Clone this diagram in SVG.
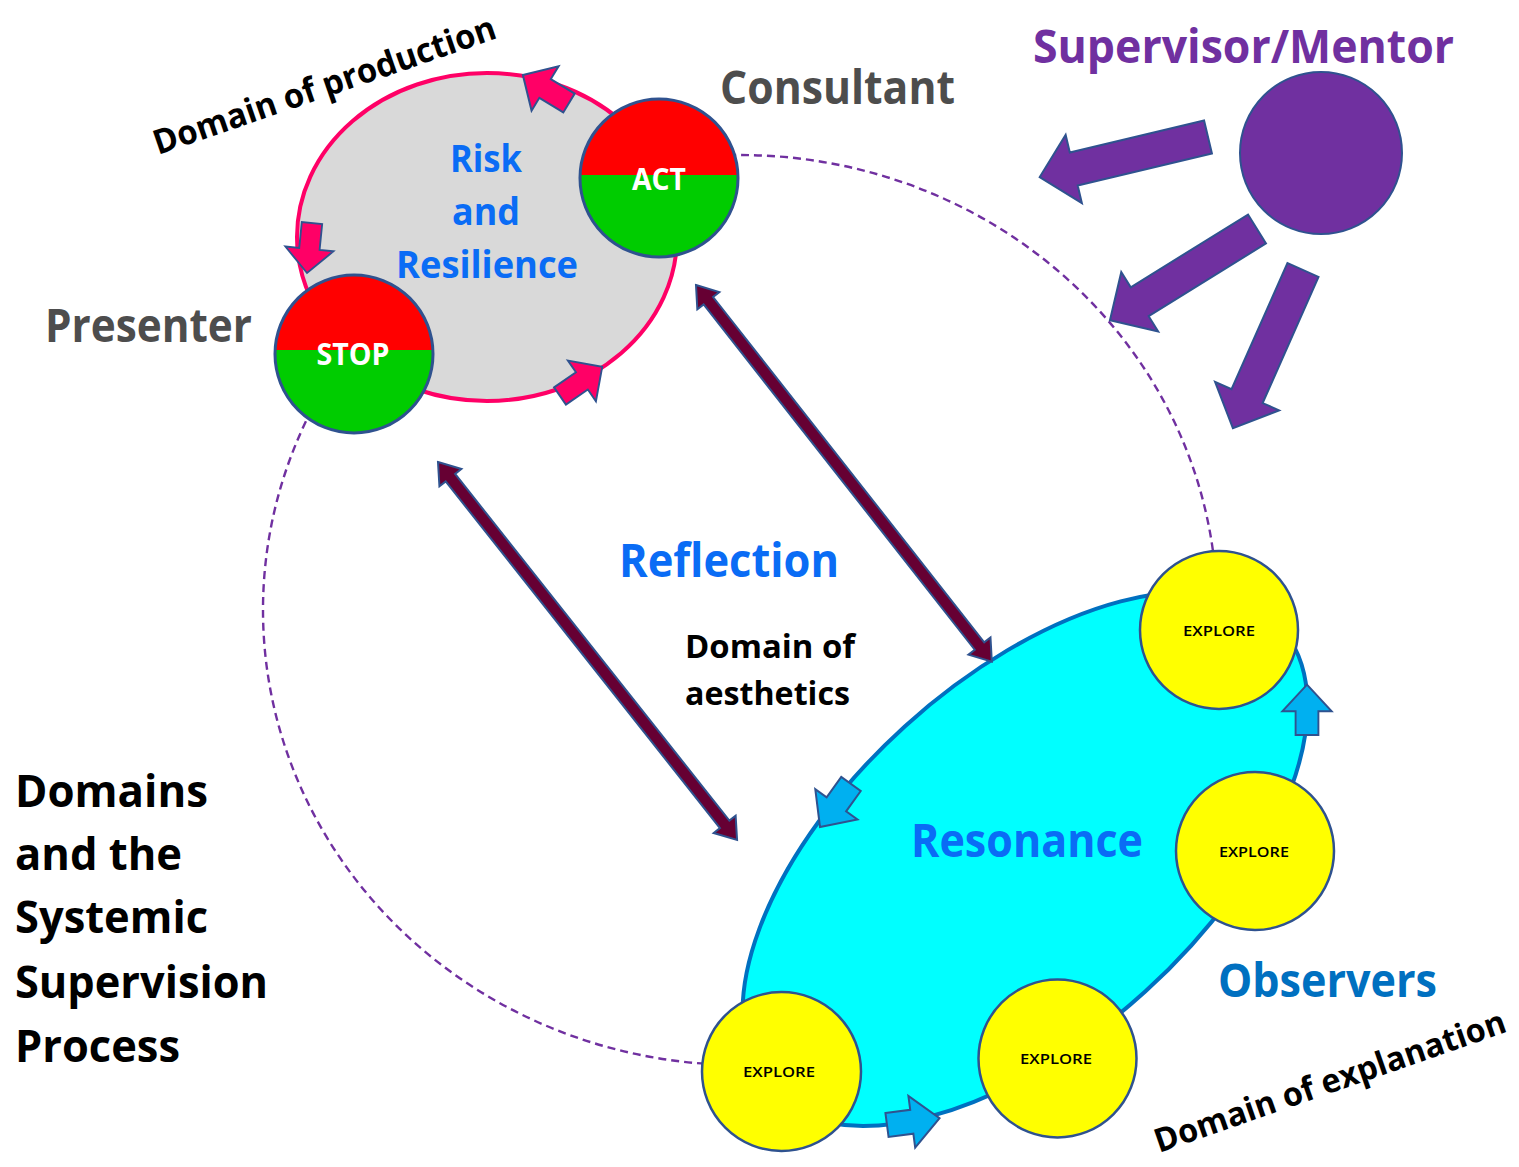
<svg xmlns="http://www.w3.org/2000/svg" width="1519" height="1167" viewBox="0 0 1519 1167">
<style>
text{font-family:"Open Sans","Noto Sans","Liberation Sans",sans-serif;font-weight:700}
.big{font-size:47px}
.blue{fill:#0a6cf5}
.gray{fill:#4d4d4d}
.blk{fill:#000}
.wht{fill:#fff;font-size:30px}
.exp{font-size:15px;fill:#000;font-weight:600}
.ol{stroke:#2f528f;stroke-width:3}
.pink{fill:#ff0066;stroke:#2f528f;stroke-width:2}
.cyarr{fill:#00b0f0;stroke:#2f528f;stroke-width:2}
.parr{fill:#7030a0;stroke:#2f528f;stroke-width:2}
.marr{fill:#660033;stroke:#2f528f;stroke-width:2}
.yel{fill:#ffff00;stroke:#2f528f;stroke-width:2.5}
</style>
<defs>
<polygon id="pinkArrow" points="0,-11 28,-11 28,-26 54,0 28,26 28,11 0,11"/>
<polygon id="cyanArrow" points="0,-12 25,-12 25,-26 53,0 25,26 25,12 0,12"/>
<polygon id="purpleArrow" points="0,-17 138,-17 138,-35 173,0 138,35 138,17 0,17"/>
</defs>
<rect width="1519" height="1167" fill="#fff"/>

<g id="outer-domain">
<ellipse cx="740" cy="610" rx="477" ry="455" fill="none" stroke="#7030a0" stroke-width="2.4" stroke-dasharray="8 5"/>
</g>

<g id="risk-resilience">
<ellipse cx="487" cy="237" rx="190" ry="164" fill="#d9d9d9" stroke="#ff0066" stroke-width="4"/>
<text class="blue" font-size="38" x="486" y="172" text-anchor="middle" textLength="72" lengthAdjust="spacingAndGlyphs">Risk</text>
<text class="blue" font-size="38" x="486" y="225" text-anchor="middle" textLength="68" lengthAdjust="spacingAndGlyphs">and</text>
<text class="blue" font-size="38" x="396" y="278" textLength="182" lengthAdjust="spacingAndGlyphs">Resilience</text>
</g>

<g id="connectors">
<use href="#pinkArrow" class="pink" transform="translate(569,103) rotate(211.3)"/>
<use href="#pinkArrow" class="pink" transform="translate(312,223) rotate(95.7) scale(0.93)"/>
<use href="#pinkArrow" class="pink" transform="translate(560,396) rotate(-34.6) scale(0.95)"/>
</g>

<g id="act">
<path d="M580.06,175 A79,79 0 0 1 737.94,175 Z" fill="#ff0000"/>
<path d="M737.94,175 A79,79 0 1 1 580.06,175 Z" fill="#00cc00"/>
<circle cx="659" cy="178" r="79" fill="none" class="ol"/>
<text class="wht" x="659" y="190" text-anchor="middle" textLength="54" lengthAdjust="spacingAndGlyphs">ACT</text>
</g>

<g id="stop">
<path d="M275.1,350 A79,79 0 0 1 432.9,350 Z" fill="#ff0000"/>
<path d="M432.9,350 A79,79 0 1 1 275.1,350 Z" fill="#00cc00"/>
<circle cx="354" cy="354" r="79" fill="none" class="ol"/>
<text class="wht" x="353" y="365" text-anchor="middle" textLength="73" lengthAdjust="spacingAndGlyphs">STOP</text>
</g>

<g id="resonance">
<ellipse cx="1025" cy="859" rx="345" ry="179" transform="rotate(-42.2 1025 859)" fill="#00ffff" stroke="#0070c0" stroke-width="4"/>
<text class="blue big" x="911" y="857" textLength="232" lengthAdjust="spacingAndGlyphs">Resonance</text>
</g>

<g id="connectors-resonance">
<use href="#cyanArrow" class="cyarr" transform="translate(851,784) rotate(125.8)"/>
<use href="#cyanArrow" class="cyarr" transform="translate(1307,735) rotate(-90) scale(0.95)"/>
<use href="#cyanArrow" class="cyarr" transform="translate(887,1125) rotate(-7.5)"/>
</g>

<g id="explore-1">
<circle cx="1219" cy="630" r="79" class="yel"/>
<text class="exp" x="1219" y="636" text-anchor="middle" textLength="72" lengthAdjust="spacingAndGlyphs">EXPLORE</text>
</g>
<g id="explore-2">
<circle cx="1255" cy="851" r="79" class="yel"/>
<text class="exp" x="1254" y="857" text-anchor="middle" textLength="70" lengthAdjust="spacingAndGlyphs">EXPLORE</text>
</g>
<g id="explore-3">
<circle cx="1057.5" cy="1058.5" r="79" class="yel"/>
<text class="exp" x="1056" y="1064" text-anchor="middle" textLength="72" lengthAdjust="spacingAndGlyphs">EXPLORE</text>
</g>
<g id="explore-4">
<circle cx="781.5" cy="1071.5" r="79.5" class="yel"/>
<text class="exp" x="779" y="1077" text-anchor="middle" textLength="72" lengthAdjust="spacingAndGlyphs">EXPLORE</text>
</g>

<g id="connectors-reflection">
<polygon class="marr" transform="translate(696,285) rotate(51.86)" points="0,0 20,-14 20,-6 459,-6 459,-14 479,0 459,14 459,6 20,6 20,14"/>
<polygon class="marr" transform="translate(438,462) rotate(51.65)" points="0,0 20,-14 20,-6 462,-6 462,-14 482,0 462,14 462,6 20,6 20,14"/>
</g>

<g id="supervisor">
<circle cx="1321" cy="153" r="81" fill="#7030a0" stroke="#2f528f" stroke-width="2"/>
</g>
<g id="connectors-supervisor">
<use href="#purpleArrow" class="parr" transform="translate(1208,137) rotate(166.6)"/>
<use href="#purpleArrow" class="parr" transform="translate(1257,229) rotate(148.2)"/>
<use href="#purpleArrow" class="parr" transform="translate(1303,270) rotate(113.9)"/>
</g>

<g id="labels">
<text class="blk" font-size="34" transform="translate(158,155) rotate(-19)" textLength="360" lengthAdjust="spacingAndGlyphs">Domain of production</text>
<text class="blk" font-size="33" transform="translate(1159,1153) rotate(-19.2)" textLength="370" lengthAdjust="spacingAndGlyphs">Domain of explanation</text>
<text class="gray big" x="720" y="104" textLength="235" lengthAdjust="spacingAndGlyphs">Consultant</text>
<text class="big" fill="#7030a0" x="1033" y="63" textLength="421" lengthAdjust="spacingAndGlyphs">Supervisor/Mentor</text>
<text class="gray big" x="45" y="342" textLength="207" lengthAdjust="spacingAndGlyphs">Presenter</text>
<text class="blue big" x="619" y="577" textLength="220" lengthAdjust="spacingAndGlyphs">Reflection</text>
<text class="blk" font-size="32" x="685" y="658" textLength="170" lengthAdjust="spacingAndGlyphs">Domain of</text>
<text class="blk" font-size="32" x="685" y="705" textLength="165" lengthAdjust="spacingAndGlyphs">aesthetics</text>
<text class="big" fill="#0070c0" x="1218" y="997" textLength="219" lengthAdjust="spacingAndGlyphs">Observers</text>
<text class="blk" font-size="45" x="15" y="807" textLength="193" lengthAdjust="spacingAndGlyphs">Domains</text>
<text class="blk" font-size="45" x="15" y="870" textLength="167" lengthAdjust="spacingAndGlyphs">and the</text>
<text class="blk" font-size="45" x="15" y="933" textLength="193" lengthAdjust="spacingAndGlyphs">Systemic</text>
<text class="blk" font-size="45" x="15" y="998" textLength="253" lengthAdjust="spacingAndGlyphs">Supervision</text>
<text class="blk" font-size="45" x="15" y="1062" textLength="165" lengthAdjust="spacingAndGlyphs">Process</text>
</g>
</svg>
